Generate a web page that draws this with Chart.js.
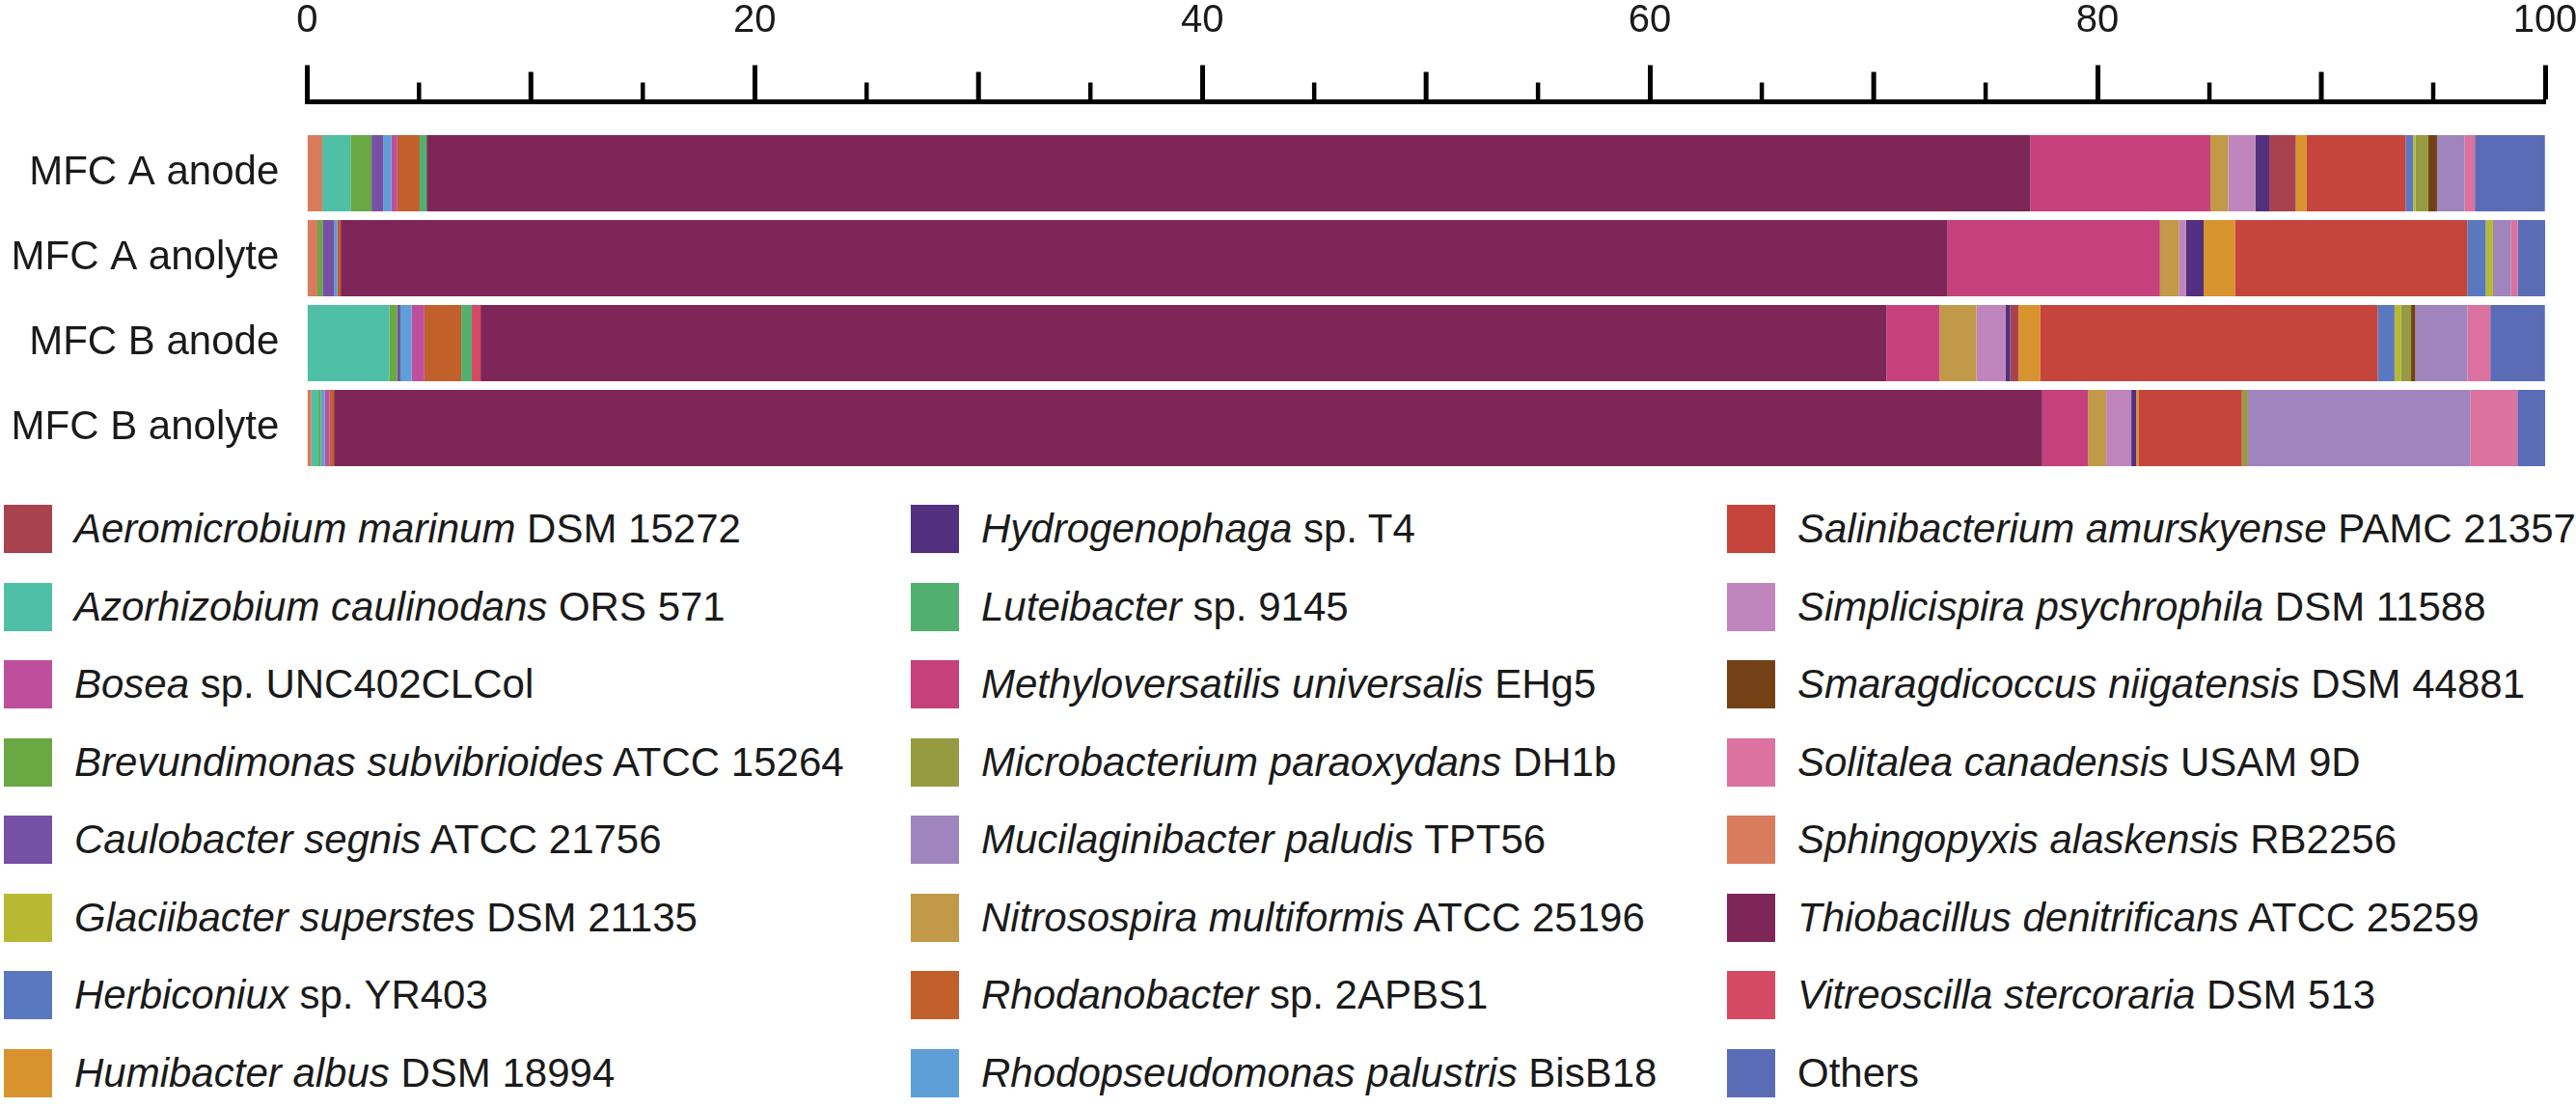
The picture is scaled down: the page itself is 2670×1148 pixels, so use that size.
<!DOCTYPE html>
<html>
<head>
<meta charset="utf-8">
<title>MFC community composition</title>
<script src="https://cdn.jsdelivr.net/npm/chart.js@4.4.1/dist/chart.umd.min.js"></script>
<style>
  html, body { margin: 0; padding: 0; background: #fff; }
  body { width: 2670px; height: 1148px; position: relative; overflow: hidden;
         font-family: 'Liberation Sans', Arial, sans-serif; color: #1a1a1a; }
  #chart { position: absolute; left: 0; top: 0; }
  #legend { position: absolute; left: 4px; top: 508px; display: grid;
            grid-template-columns: 940px 846px 880px;
            grid-template-rows: repeat(8, 80.5px); grid-auto-flow: column;
            font-size: 42px; }
  .item { display: flex; align-items: center; white-space: nowrap; }
  .sw { width: 50px; height: 50px; margin-right: 23px; flex: none; }
</style>
</head>
<body>
<canvas id="chart" width="2670" height="495"></canvas>
<div id="legend"></div>
<script>
// rows of the chart
const samples = ['MFC A anode', 'MFC A anolyte', 'MFC B anode', 'MFC B anolyte'];

// taxa in stacking order (left to right in every bar)
const taxa = [
  'Sphingopyxis alaskensis', 'Azorhizobium caulinodans', 'Brevundimonas subvibrioides',
  'Caulobacter segnis', 'Rhodopseudomonas palustris', 'Bosea', 'Rhodanobacter',
  'Luteibacter', 'Vitreoscilla stercoraria', 'Thiobacillus denitrificans',
  'Methyloversatilis universalis', 'Nitrosospira multiformis', 'Simplicispira psychrophila',
  'Hydrogenophaga', 'Aeromicrobium marinum', 'Humibacter albus', 'Salinibacterium amurskyense',
  'Herbiconiux', 'Glaciibacter superstes', 'Microbacterium paraoxydans',
  'Smaragdicoccus niigatensis', 'Mucilaginibacter paludis', 'Solitalea canadensis', 'Others'
];
const strains = [
  'RB2256', 'ORS 571', 'ATCC 15264',
  'ATCC 21756', 'BisB18', 'sp. UNC402CLCol', 'sp. 2APBS1',
  'sp. 9145', 'DSM 513', 'ATCC 25259',
  'EHg5', 'ATCC 25196', 'DSM 11588',
  'sp. T4', 'DSM 15272', 'DSM 18994', 'PAMC 21357',
  'sp. YR403', 'DSM 21135', 'DH1b',
  'DSM 44881', 'TPT56', 'USAM 9D', ''
];
const colors = [
  '#d97b5d', '#4fbfa6', '#69a843', '#7650a5', '#5d9fd6', '#bf4f9d', '#c1602a',
  '#52b06f', '#d44a63', '#7e2658', '#c6407b', '#c29849', '#c085bd', '#532f80',
  '#a8424f', '#d8932f', '#c5443c', '#5a78c0', '#b8b832', '#969b42', '#744117',
  '#a084be', '#db72a0', '#5a6cb5'
];

// relative abundance (%) per sample, same order as taxa
const mfcAAnode   = [0.68, 1.26, 0.94, 0.53, 0.36, 0.26, 1.00, 0.31, 0, 71.66, 8.04, 0.80,
                     1.21, 0.62, 1.19, 0.49, 4.42, 0.33, 0.10, 0.58, 0.39, 1.23, 0.46, 3.13];
const mfcAAnolyte = [0.46, 0, 0.23, 0.53, 0.14, 0, 0.14, 0, 0, 71.80, 9.49, 0.84,
                     0.33, 0.78, 0, 1.40, 10.38, 0.83, 0.32, 0, 0, 0.79, 0.31, 1.24];
const mfcBAnode   = [0, 3.67, 0.36, 0.14, 0.50, 0.57, 1.65, 0.47, 0.39, 62.82, 2.37, 1.65,
                     1.29, 0.22, 0.36, 0.97, 15.09, 0.75, 0.28, 0.46, 0.19, 2.33, 1.02, 2.44];
const mfcBAnolyte = [0.19, 0.31, 0.12, 0, 0.17, 0.22, 0.19, 0, 0, 76.33, 2.04, 0.82,
                     1.12, 0.22, 0, 0.12, 4.60, 0, 0, 0.27, 0, 9.93, 2.11, 1.24];

const xTicks = [0, 20, 40, 60, 80, 100];

const FONT = "'Liberation Sans', Arial, sans-serif";
const rows = [mfcAAnode, mfcAAnolyte, mfcBAnode, mfcBAnolyte];

const datasets = taxa.map((name, i) => ({
  label: name,
  strain: strains[i],
  data: rows.map(r => r[i]),
  backgroundColor: colors[i],
  borderWidth: 0,
  barPercentage: 0.9,
  categoryPercentage: 1.0
}));

// shorter ticks every 5 and 10 along the top axis
const minorTicks = {
  id: 'minorTicks',
  afterDraw(chart) {
    const x = chart.scales.x;
    const ctx = chart.ctx;
    const base = x.bottom - 2;
    ctx.save();
    ctx.strokeStyle = '#000';
    x.ticks.forEach(t => {
      if (xTicks.includes(t.value)) return;
      const med = t.value % 10 === 0;
      const px = x.getPixelForValue(t.value);
      ctx.lineWidth = med ? 5 : 4.5;
      ctx.beginPath();
      ctx.moveTo(px, base);
      ctx.lineTo(px, base - (med ? 29 : 18));
      ctx.stroke();
    });
    ctx.restore();
  }
};

const chart = new Chart(document.getElementById('chart'), {
  type: 'bar',
  data: { labels: samples, datasets: datasets },
  plugins: [minorTicks],
  options: {
    indexAxis: 'y',
    responsive: false,
    animation: false,
    layout: { padding: { left: 0, right: 32, top: 0, bottom: 7.5 } },
    plugins: { legend: { display: false }, tooltip: { enabled: false } },
    scales: {
      x: {
        position: 'top',
        stacked: true,
        min: 0,
        max: 100,
        weight: 1,
        afterFit: s => {
          s.height = 105.5;
          s.paddingLeft = 0;
          s.paddingRight = 0;
        },
        ticks: {
          stepSize: 5,
          autoSkip: false,
          maxRotation: 0,
          padding: 22,
          color: '#1a1a1a',
          font: { family: FONT, size: 40 },
          callback: v => xTicks.includes(v) ? v : ''
        },
        grid: {
          drawOnChartArea: false,
          tickLength: 38,
          tickWidth: c => (c.tick && xTicks.includes(c.tick.value)) ? 5 : 0,
          tickColor: c => (c.tick && xTicks.includes(c.tick.value)) ? '#000' : 'rgba(0,0,0,0)'
        },
        border: { display: true, width: 5, color: '#000' }
      },
      xGap: {
        type: 'linear',
        position: 'top',
        min: 0,
        max: 1,
        weight: 0,
        afterFit: s => { s.height = 30; },
        grid: { display: false, drawTicks: false },
        ticks: { display: false },
        border: { display: false }
      },
      y: {
        stacked: true,
        afterFit: s => {
          s.width = 318.3;
          s.paddingTop = 0;
          s.paddingBottom = 0;
        },
        grid: { display: false, drawTicks: false },
        border: { display: false },
        ticks: {
          padding: 29,
          color: '#1a1a1a',
          font: { family: FONT, size: 42 }
        }
      }
    }
  }
});

// legend as text: italic names, upright strain, alphabetical, Others last
const legend = document.getElementById('legend');
const entries = chart.data.datasets.slice().sort((a, b) => {
  if (a.label === 'Others') return 1;
  if (b.label === 'Others') return -1;
  return a.label.localeCompare(b.label);
});
entries.forEach(d => {
  const item = document.createElement('div');
  item.className = 'item';
  const sw = document.createElement('span');
  sw.className = 'sw';
  sw.style.background = d.backgroundColor;
  item.appendChild(sw);
  const txt = document.createElement('span');
  if (d.strain) {
    const it = document.createElement('i');
    it.textContent = d.label;
    txt.appendChild(it);
    txt.appendChild(document.createTextNode(' ' + d.strain));
  } else {
    txt.textContent = d.label;
  }
  item.appendChild(txt);
  legend.appendChild(item);
});
</script>
</body>
</html>
